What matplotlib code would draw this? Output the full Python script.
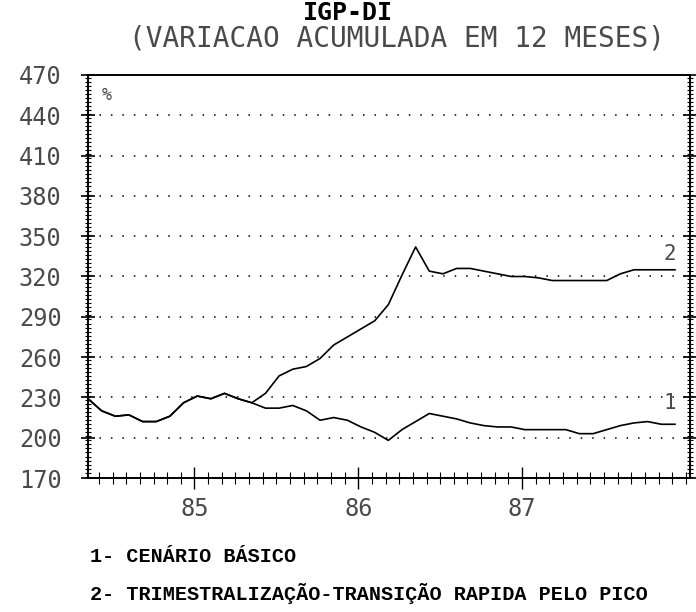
import matplotlib
matplotlib.use("Agg")
import matplotlib.pyplot as plt
from matplotlib.ticker import MultipleLocator

# monthly index, mid-1984 .. end-1987
months = list(range(44))

# 1- cenario basico
cenario_basico = [229, 220, 216, 217, 212, 212, 216, 226, 231, 229, 233, 229,
                  226, 222, 222, 224, 220, 213, 215, 213, 208, 204, 198, 206,
                  212, 218, 216, 214, 211, 209, 208, 208, 206, 206, 206, 206,
                  203, 203, 206, 209, 211, 212, 210, 210]

# 2- trimestralizacao (same path until the fork)
trimestral = [229, 220, 216, 217, 212, 212, 216, 226, 231, 229, 233, 229,
              226, 233, 246, 251, 253, 259, 269, 275, 281, 287, 299, 321,
              342, 324, 322, 326, 326, 324, 322, 320, 320, 319, 317, 317,
              317, 317, 317, 322, 325, 325, 325, 325]

year_pos = [7.8, 19.8, 31.8]
year_labels = ['85', '86', '87']
y_ticks = list(range(170, 471, 30))

mono = 'DejaVu Sans Mono'
dot_col = '#4a4a4a'

fig = plt.figure(figsize=(6.96, 6.12), dpi=100)
ax = fig.add_axes([88/696, 1 - 478/612, 602/696, 403/612])

# dotted grid
for v in y_ticks[1:-1]:
    ax.axhline(v, color='black', lw=1.1, ls=(0, (1, 6.5)), zorder=1)

ax.plot(months, cenario_basico, color='black', lw=1.2, zorder=3)
ax.plot(months, trimestral, color='black', lw=1.2, zorder=3)

ax.set_xlim(0, 44.1)
ax.set_ylim(170, 470)

ax.set_yticks(y_ticks)
ax.set_yticklabels([str(v) for v in y_ticks], fontfamily=mono, fontsize=17, color=dot_col)
ax.yaxis.set_minor_locator(MultipleLocator(3))
ax.tick_params(axis='y', which='major', direction='inout', length=10, width=1.2, pad=14, right=True)
ax.tick_params(axis='y', which='minor', direction='inout', length=5, width=0.8, right=True)

ax.set_xticks(year_pos)
ax.set_xticklabels(year_labels, fontfamily=mono, fontsize=17, color=dot_col)
ax.set_xticks([k + 0.8 for k in range(44)], minor=True)
ax.tick_params(axis='x', which='major', direction='inout', length=16, width=1.0, pad=6)
ax.tick_params(axis='x', which='minor', direction='inout', length=8, width=0.8)

for s in ax.spines.values():
    s.set_linewidth(1.4)

# series labels and unit
ax.text(1.0, 462, '%', fontfamily=mono, fontsize=12, color=dot_col, va='top')
ax.text(42.6, 332, '2', fontfamily=mono, fontsize=15, color=dot_col, ha='center')
ax.text(42.6, 221, '1', fontfamily=mono, fontsize=15, color=dot_col, ha='center')

fig.text(348/696, 1 - 13/612, 'IGP-DI', fontfamily=mono, fontsize=18,
         fontweight='bold', ha='center', va='center')
fig.text(397/696, 1 - 39/612, '(VARIACAO ACUMULADA EM 12 MESES)', fontfamily=mono,
         fontsize=20, color=dot_col, ha='center', va='center')

fig.text(90/696, 1 - 556/612, '1- CENÁRIO BÁSICO', fontfamily='Liberation Mono',
         fontsize=14.5, fontweight='bold', va='center')
fig.text(90/696, 1 - 593/612, '2- TRIMESTRALIZAÇÃO-TRANSIÇÃO RAPIDA PELO PICO',
         fontfamily='Liberation Mono', fontsize=14.5, fontweight='bold', va='center')

fig.savefig('out.png', dpi=100)
